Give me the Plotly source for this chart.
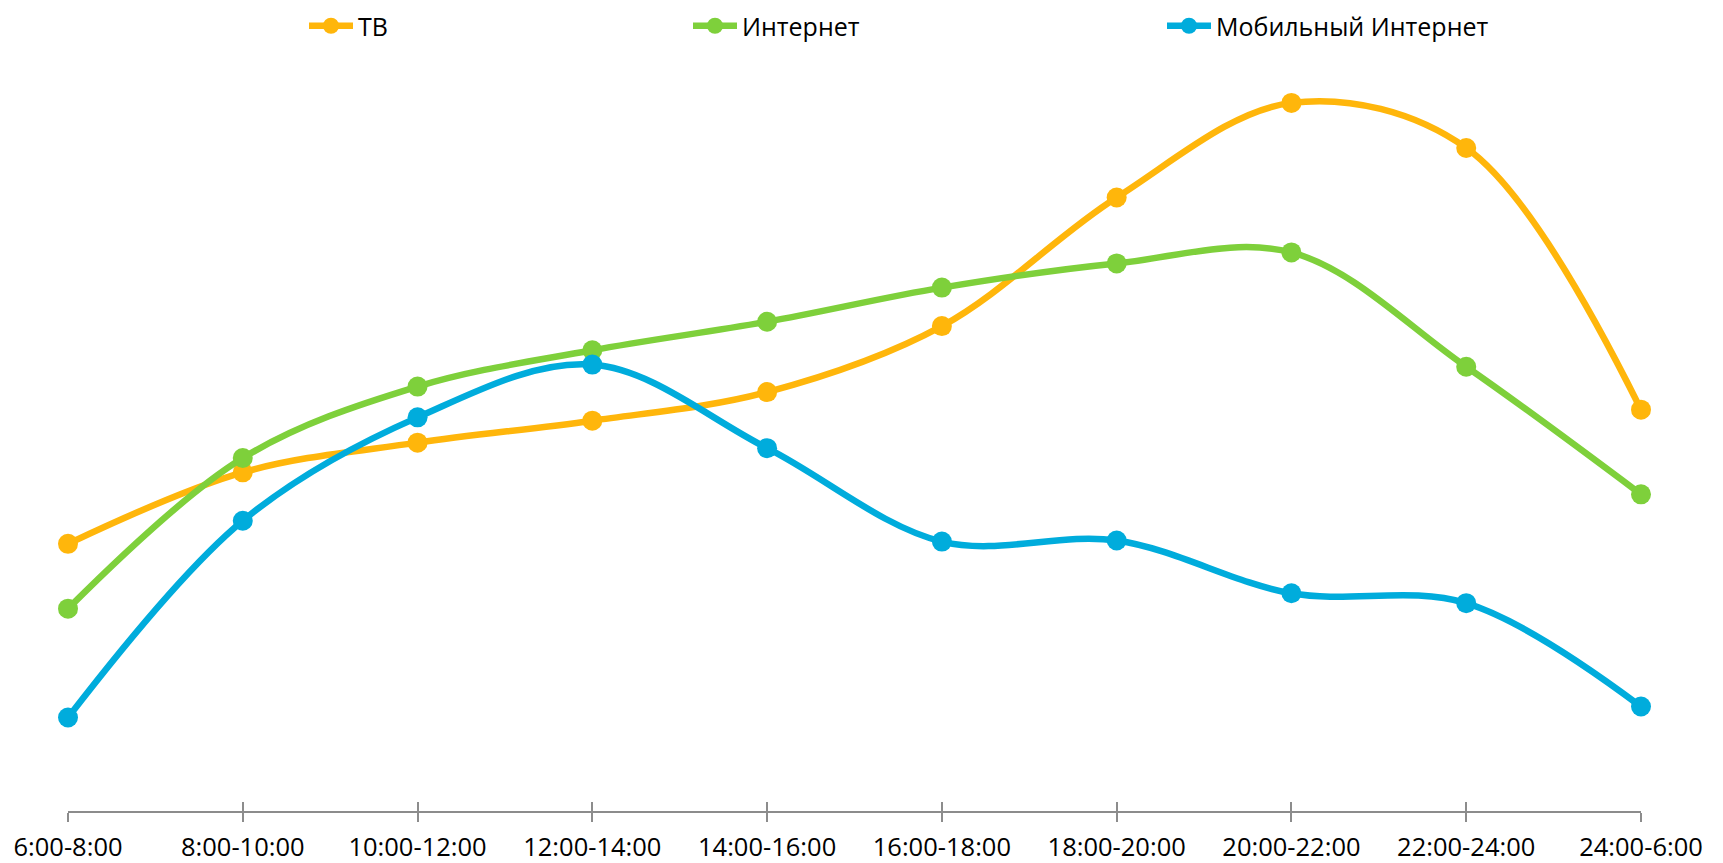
import plotly.graph_objects as go

categories = ["6:00-8:00", "8:00-10:00", "10:00-12:00", "12:00-14:00", "14:00-16:00",
              "16:00-18:00", "18:00-20:00", "20:00-22:00", "22:00-24:00", "24:00-6:00"]
tv = [243, 308, 335, 355, 381, 441, 558, 644, 603, 365]
internet = [184, 321, 386, 419, 445, 476, 498, 508, 404, 288]
mobile = [85, 264, 358, 406, 330, 245, 246, 198, 189, 95]

series_names = ["ТВ", "Интернет", "Мобильный Интернет"]
series_colors = ["#FFB60B", "#7ED03B", "#00ACDC"]
series_values = [tv, internet, mobile]
legend_ids = ["legend", "legend2", "legend3"]

FONT = "Open Sans, DejaVu Sans, sans-serif"

fig = go.Figure()
for name, color, vals, lg in zip(series_names, series_colors, series_values, legend_ids):
    fig.add_trace(go.Scatter(
        x=categories, y=vals, name=name, mode="lines+markers",
        line=dict(color=color, width=6.5, shape="spline", smoothing=1),
        marker=dict(color=color, size=20),
        legend=lg, cliponaxis=False,
    ))

# second (overlaying) axis carries the upper half of the tick marks
fig.add_trace(go.Scatter(x=categories, y=[None]*len(categories), xaxis="x2",
                         showlegend=False, hoverinfo="skip"))

# page has an 8px body margin, figure sized to fill the rest of the window
OFF = 8
FW, FH = 1723 - OFF, 863 - OFF
L, R = 68 - OFF, 82
T, B = 60 - OFF, 52
W = FW - L - R

def lx(px):
    return (px - OFF - L) / W

legend_common = dict(orientation="h", yref="container", yanchor="middle",
                     y=1 - (26 - OFF) / FH,
                     xanchor="left", font=dict(family=FONT, size=25, color="#000000"),
                     bgcolor="rgba(0,0,0,0)", itemwidth=44, tracegroupgap=0)

fig.update_layout(
    width=FW, height=FH,
    margin=dict(l=L, r=R, t=T, b=B, autoexpand=False),
    paper_bgcolor="white", plot_bgcolor="white",
    font=dict(family=FONT, size=25, color="#000000"),
    showlegend=True,
    legend=dict(x=lx(332 - 28), **legend_common),
    legend2=dict(x=lx(716 - 28), **legend_common),
    legend3=dict(x=lx(1190 - 28), **legend_common),
    xaxis=dict(type="category", range=[0, len(categories) - 1], showgrid=False,
               showline=True, linecolor="#8C8C8C", linewidth=1.5,
               ticks="outside", ticklen=9, tickwidth=1.5, tickcolor="#8C8C8C",
               tickfont=dict(family=FONT, size=25.5, color="#000000"),
               ticklabelstandoff=4, zeroline=False, automargin=False),
    xaxis2=dict(type="category", range=[0, len(categories) - 1], overlaying="x",
                anchor="y", side="bottom", showgrid=False, showline=False,
                ticks="inside", ticklen=9, tickwidth=1.5, tickcolor="#8C8C8C",
                showticklabels=False, categoryarray=categories, categoryorder="array",
                automargin=False),
    yaxis=dict(range=[0, 683], visible=False, showgrid=False, zeroline=False,
               automargin=False),
)

fig.write_html("out.html")
